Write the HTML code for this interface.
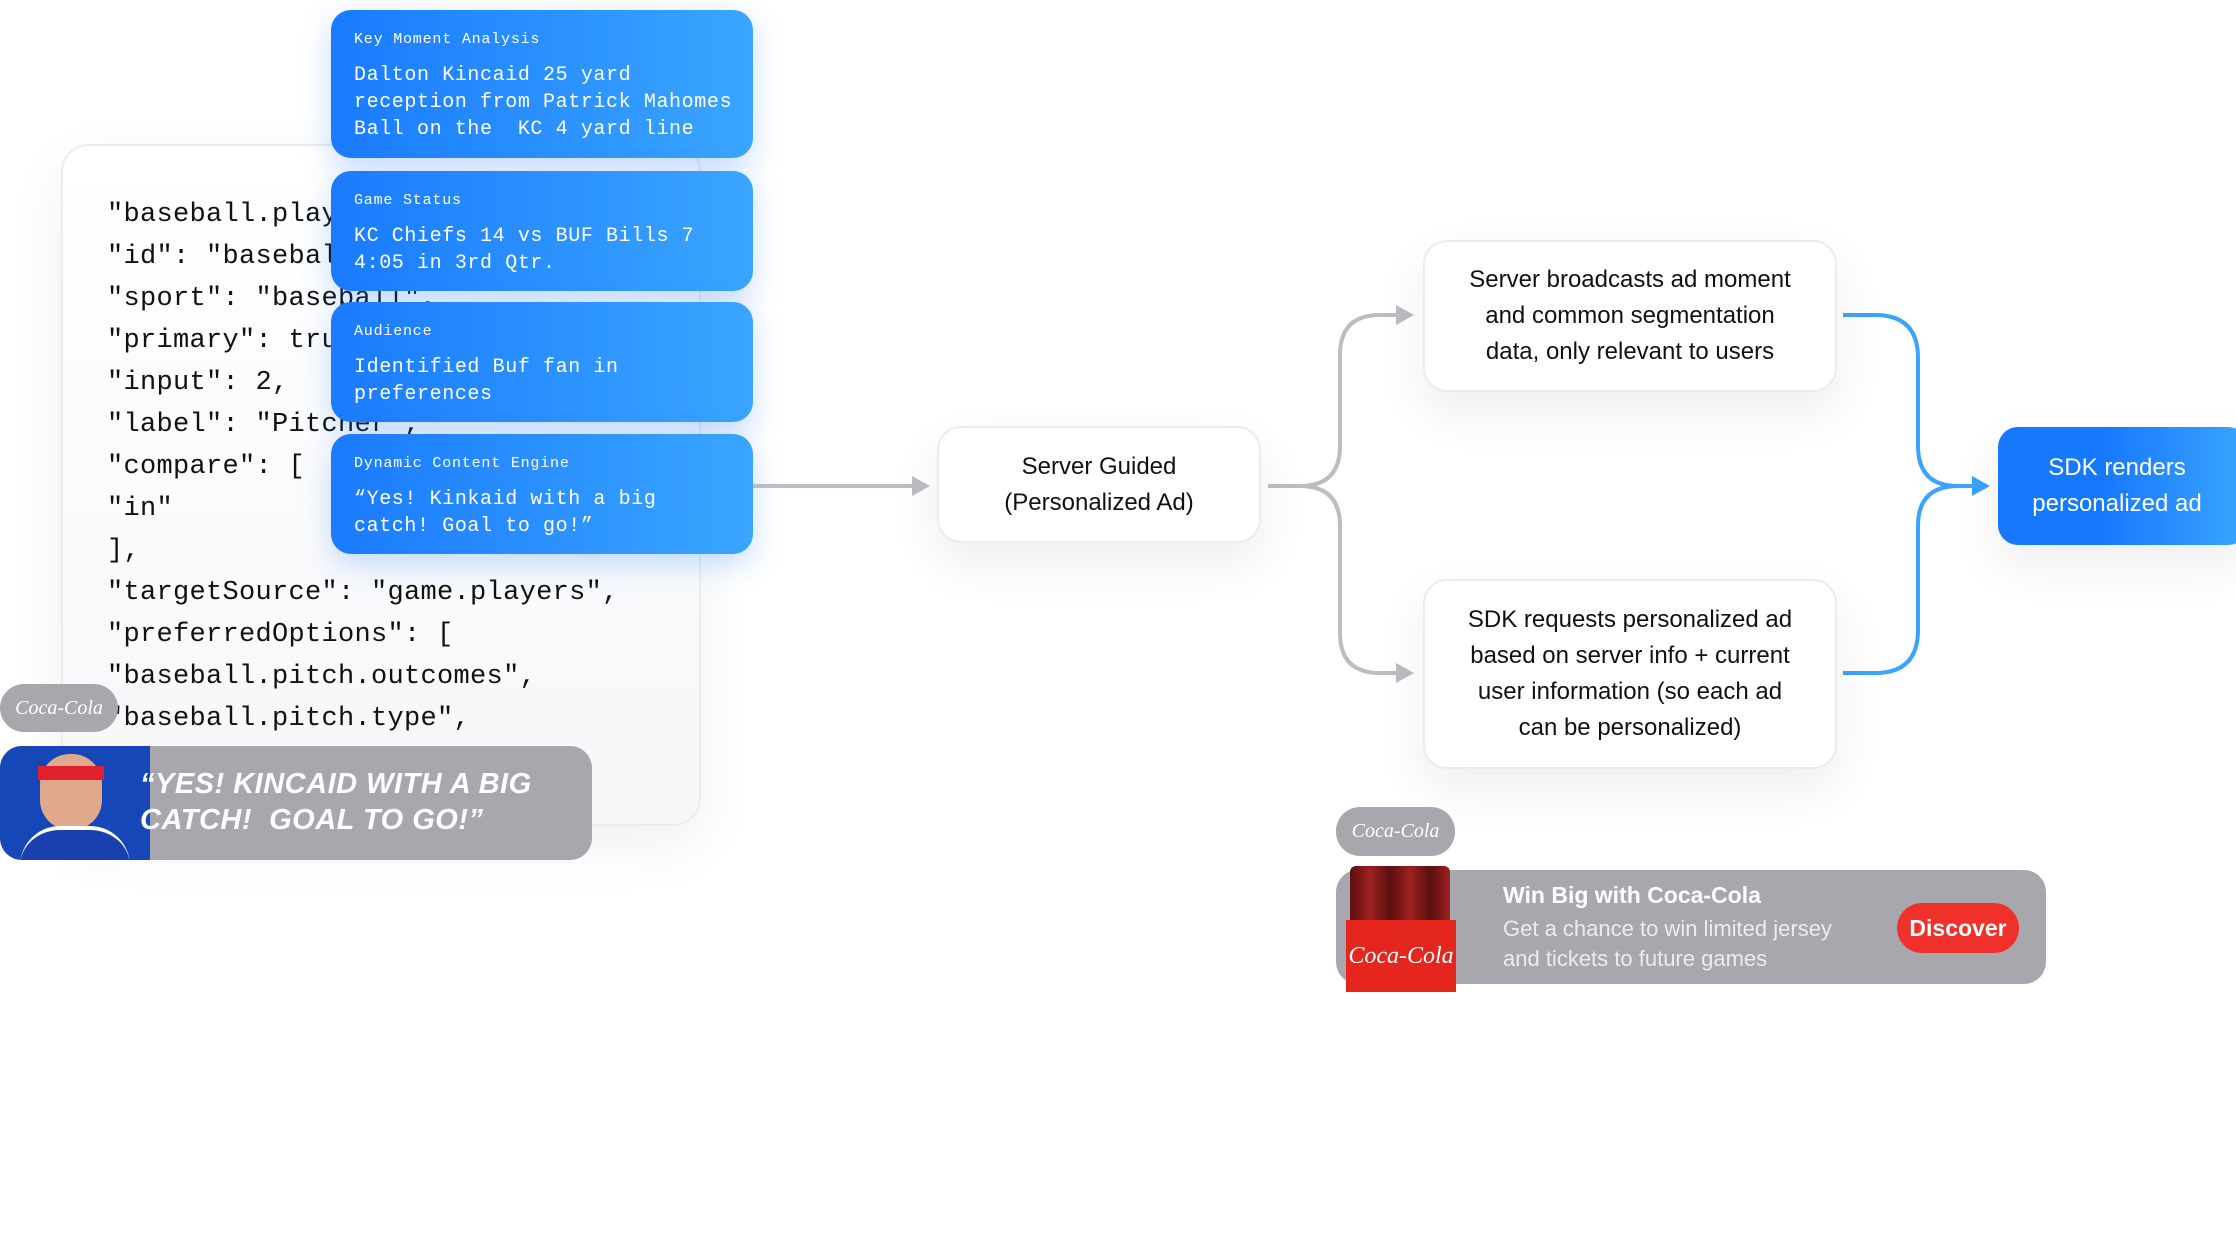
<!DOCTYPE html>
<html><head><meta charset="utf-8"><style>
*{margin:0;padding:0;box-sizing:border-box}
body{width:2236px;height:1258px;background:#fff;position:relative;overflow:hidden;font-family:"Liberation Sans",sans-serif}
.abs{position:absolute}
.code{left:61px;top:144px;width:640px;height:682px;border:2px solid #ececef;border-radius:28px;background:linear-gradient(180deg,#fff,#f7f7fa);box-shadow:0 20px 60px rgba(0,0,0,0.06)}
.codetxt{left:107px;top:194px;font-family:"Liberation Mono",monospace;font-size:27px;line-height:42px;color:#111;white-space:pre;letter-spacing:0.3px}
.bc{left:331px;width:422px;border-radius:20px;background:linear-gradient(90deg,#1a7bff,#3aa5ff);color:#fff;font-family:"Liberation Mono",monospace;padding:0 0 0 23px;box-shadow:0 10px 30px rgba(30,120,255,0.25)}
.bc .l{font-size:15px;margin-top:21px;letter-spacing:0.8px}
.bc .t{font-size:20px;line-height:27px;margin-top:14px;letter-spacing:0.6px;white-space:pre}
.box{background:#fff;border:2px solid #ececef;border-radius:24px;box-shadow:0 20px 50px rgba(0,0,0,0.07);display:flex;align-items:center;justify-content:center;text-align:center;font-size:24px;line-height:36px;color:#111}
.pill{background:#a8a7ad;border-radius:24px;color:#fff;font-family:"Liberation Serif",serif;font-style:italic;font-size:20px;display:flex;align-items:center;justify-content:center}
</style></head><body>
<div class="abs code"></div>
<div class="abs codetxt">"baseball.players",
"id": "baseball.pitcher",
"sport": "baseball",
"primary": true,
"input": 2,
"label": "Pitcher",
"compare": [
"in"
],
"targetSource": "game.players",
"preferredOptions": [
"baseball.pitch.outcomes",
"baseball.pitch.type",</div>

<div class="abs bc" style="top:10px;height:148px"><div class="l">Key Moment Analysis</div><div class="t">Dalton Kincaid 25 yard
reception from Patrick Mahomes
Ball on the  KC 4 yard line</div></div>
<div class="abs bc" style="top:171px;height:120px"><div class="l">Game Status</div><div class="t">KC Chiefs 14 vs BUF Bills 7
4:05 in 3rd Qtr.</div></div>
<div class="abs bc" style="top:302px;height:120px"><div class="l">Audience</div><div class="t">Identified Buf fan in
preferences</div></div>
<div class="abs bc" style="top:434px;height:120px"><div class="l">Dynamic Content Engine</div><div class="t">“Yes! Kinkaid with a big
catch! Goal to go!”</div></div>

<div class="abs pill" style="left:0;top:684px;width:118px;height:48px">Coca-Cola</div>
<div class="abs" style="left:0;top:746px;width:592px;height:114px;background:#a8a7ad;border-radius:22px;overflow:hidden">
  <div class="abs" style="left:0;top:0;width:150px;height:114px;background:#1647b8"></div>
  <div class="abs" style="left:40px;top:8px;width:62px;height:76px;border-radius:30px;background:#e0a98c"></div>
  <div class="abs" style="left:38px;top:20px;width:66px;height:14px;background:#e0202a"></div>
  <div class="abs" style="left:20px;top:80px;width:110px;height:40px;border-radius:40px 40px 0 0;background:#1a3fae;border-top:4px solid #fff"></div>
  <div class="abs" style="left:140px;top:20px;color:#fff;font-weight:bold;font-style:italic;font-size:29px;line-height:36px;letter-spacing:0.5px">“YES! KINCAID WITH A BIG<br>CATCH!&nbsp; GOAL TO GO!”</div>
</div>

<svg class="abs" style="left:0;top:0" width="2236" height="1258">
  <g fill="none" stroke="#bdbcc3" stroke-width="4">
    <path d="M753 486 H915"/>
    <path d="M1268 486 H1300 Q1340 486 1340 446 V355 Q1340 315 1380 315 H1398"/>
    <path d="M1300 486 Q1340 486 1340 526 V633 Q1340 673 1380 673 H1398"/>
  </g>
  <g fill="#bdbcc3">
    <path d="M912 476 L930 486 L912 496 Z"/>
    <path d="M1396 305 L1414 315 L1396 325 Z"/>
    <path d="M1396 663 L1414 673 L1396 683 Z"/>
  </g>
  <g fill="none" stroke="#3aa3ff" stroke-width="4">
    <path d="M1843 315 H1875 Q1918 315 1918 358 V446 Q1918 486 1958 486 H1975"/>
    <path d="M1843 673 H1875 Q1918 673 1918 630 V526 Q1918 486 1958 486"/>
  </g>
  <path d="M1972 476 L1990 486 L1972 496 Z" fill="#3aa3ff"/>
</svg>

<div class="abs box" style="left:937px;top:426px;width:324px;height:117px">Server Guided<br>(Personalized Ad)</div>
<div class="abs box" style="left:1423px;top:240px;width:414px;height:152px">Server broadcasts ad moment<br>and common segmentation<br>data, only relevant to users</div>
<div class="abs box" style="left:1423px;top:579px;width:414px;height:190px">SDK requests personalized ad<br>based on server info + current<br>user information (so each ad<br>can be personalized)</div>
<div class="abs box" style="left:1998px;top:427px;width:250px;height:118px;border:none;color:#fff;background:linear-gradient(90deg,#1677ff 40%,#3aa5ff);border-radius:20px;padding-right:12px">SDK renders<br>personalized ad</div>

<div class="abs pill" style="left:1336px;top:807px;width:119px;height:49px">Coca-Cola</div>
<div class="abs" style="left:1336px;top:870px;width:710px;height:114px;background:#a8a7ad;border-radius:22px">
  <div class="abs" style="left:14px;top:-4px;width:100px;height:70px;background:linear-gradient(90deg,#5a1010,#a02020,#5a1010,#a02020,#5a1010,#a02020);border-radius:6px 6px 0 0"></div>
  <div class="abs" style="left:10px;top:50px;width:110px;height:72px;background:#e5261e;color:#fff;font-family:'Liberation Serif',serif;font-style:italic;font-size:24px;display:flex;align-items:center;justify-content:center;white-space:nowrap">Coca-Cola</div>
  <div class="abs" style="left:167px;top:12px;color:#fff;font-size:23px;font-weight:bold">Win Big with Coca-Cola</div>
  <div class="abs" style="left:167px;top:44px;color:#ececf0;font-size:22px;line-height:30px">Get a chance to win limited jersey<br>and tickets to future games</div>
  <div class="abs" style="left:561px;top:33px;width:122px;height:50px;border-radius:25px;background:#f0302a;color:#fff;font-size:23px;font-weight:bold;display:flex;align-items:center;justify-content:center">Discover</div>
</div>
</body></html>
